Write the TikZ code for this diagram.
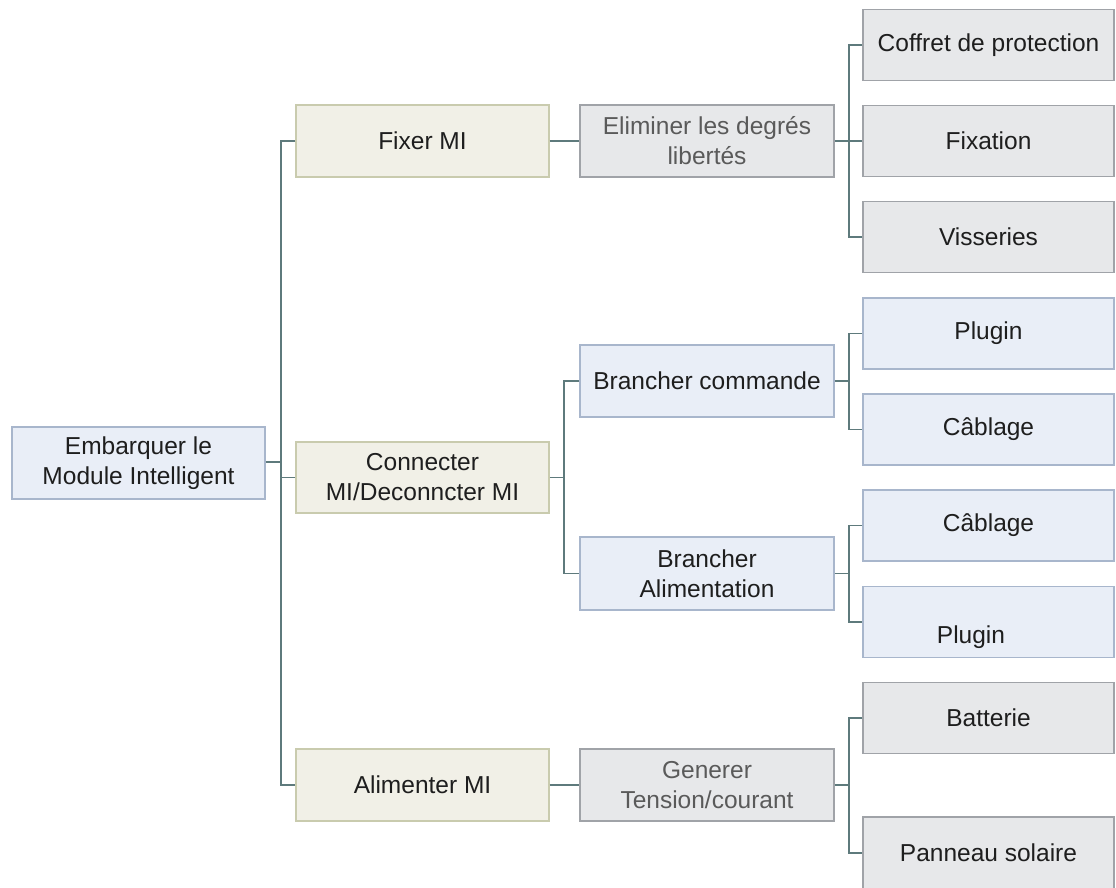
\documentclass[tikz,border=0pt]{standalone}
\usepackage{fontspec}
\setmainfont{Liberation Sans}
\definecolor{bluefill}{HTML}{E9EEF7}
\definecolor{blueline}{HTML}{A8B6CC}
\definecolor{beigefill}{HTML}{F1F0E7}
\definecolor{beigeline}{HTML}{C9CBAE}
\definecolor{grayfill}{HTML}{E7E8EA}
\definecolor{grayline}{HTML}{A0A3A8}
\definecolor{wire}{HTML}{5E7A7C}
\definecolor{txt}{HTML}{1E1E1E}
\definecolor{softtxt}{HTML}{5A5A5A}
\begin{document}
\begin{tikzpicture}[x=1pt,y=-1pt,
  box/.style={rectangle,draw,line width=1.4pt,inner sep=0pt,align=center,
    text=txt,font=\fontsize{24.5}{30}\selectfont},
  bluebox/.style={box,fill=bluefill,draw=blueline},
  beigebox/.style={box,fill=beigefill,draw=beigeline},
  graybox/.style={box,fill=grayfill,draw=grayline},
  wide/.style={minimum width=253pt,minimum height=72pt},
  leaf/.style={minimum width=251pt,minimum height=71pt},
  link/.style={draw=wire,line width=1.6pt}]
\useasboundingbox (0,0) rectangle (1116,887);

% root
\node[bluebox,wide] (root) at (138.5,463) {Embarquer le\\Module Intelligent};

% first level
\node[beigebox,wide] (fixer) at (422.5,141) {Fixer MI};
\node[beigebox,wide,minimum height=71pt] (conn) at (422.5,477.5) {Connecter\\MI/Deconncter MI};
\node[beigebox,wide] (alim) at (422.5,785) {Alimenter MI};

% second level
\node[graybox,wide,minimum width=254pt,text=softtxt] (elim) at (707,141) {Eliminer les degrés\\libertés};
\node[bluebox,wide,minimum width=254pt] (bcmd) at (707,381) {Brancher commande};
\node[bluebox,wide,minimum width=254pt,minimum height=73pt] (balim) at (707,573.5) {Brancher\\Alimentation};
\node[graybox,wide,minimum width=254pt,text=softtxt] (gen) at (707,785) {Generer\\Tension/courant};

% leaves
\node[graybox,leaf] (coffret) at (988.5,45) {Coffret de protection};
\node[graybox,leaf] (fixation) at (988.5,141) {Fixation};
\node[graybox,leaf] (visseries) at (988.5,237) {Visseries};
\node[bluebox,leaf] (plugA) at (988.5,333.5) {Plugin};
\node[bluebox,leaf] (cabA) at (988.5,429.5) {Câblage};
\node[bluebox,leaf] (cabB) at (988.5,525.5) {Câblage};
\node[bluebox,leaf] (plugB) at (988.5,622) {};
\node[box,draw=none] (plugBtext) at (971,637) {Plugin};
\node[graybox,leaf] (batterie) at (988.5,718) {Batterie};
\node[graybox,leaf,minimum height=72pt] (panneau) at (988.5,853) {Panneau solaire};

% spines
\coordinate (s1) at (281,0);
\coordinate (s2) at (564,0);
\coordinate (s3) at (849,0);

% root to first level
\draw[link] (root.east |- 0,462) -- (s1 |- 0,462);
\draw[link] (fixer.west) -- (fixer.west -| s1) -- (alim.west -| s1) -- (alim.west);
\draw[link] (conn.west) -- (conn.west -| s1);

% first to second level
\draw[link] (fixer.east) -- (elim.west);
\draw[link] (alim.east) -- (gen.west);
\draw[link] (conn.east) -- (conn.east -| s2);
\draw[link] (bcmd.west) -- (bcmd.west -| s2) -- (balim.west -| s2) -- (balim.west);

% second level to leaves
\draw[link] (elim.east) -- (fixation.west);
\draw[link] (coffret.west) -- (coffret.west -| s3) -- (visseries.west -| s3) -- (visseries.west);
\draw[link] (bcmd.east) -- (bcmd.east -| s3);
\draw[link] (plugA.west) -- (plugA.west -| s3) -- (cabA.west -| s3) -- (cabA.west);
\draw[link] (balim.east) -- (balim.east -| s3);
\draw[link] (cabB.west) -- (cabB.west -| s3) -- (plugB.west -| s3) -- (plugB.west);
\draw[link] (gen.east) -- (gen.east -| s3);
\draw[link] (batterie.west) -- (batterie.west -| s3) -- (panneau.west -| s3) -- (panneau.west);
\end{tikzpicture}
\end{document}
